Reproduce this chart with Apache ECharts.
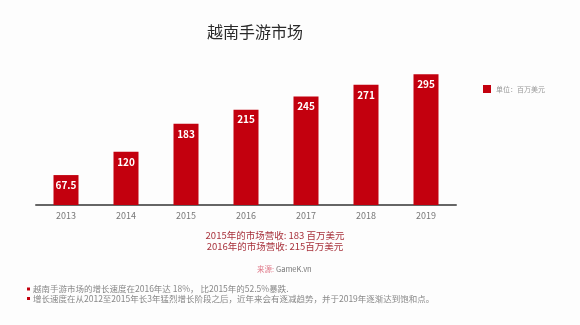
<!DOCTYPE html>
<html>
<head>
<meta charset="utf-8">
<script src="https://cdn.jsdelivr.net/npm/echarts@6/dist/echarts.min.js"></script>
<style>
  html, body { margin: 0; padding: 0; background: #fdfdfd; }
  #chart { width: 580px; height: 325px; }
</style>
</head>
<body>
<div id="chart"></div>
<script>
// Vietnam mobile game market revenue (million USD)
const years = ['2013', '2014', '2015', '2016', '2017', '2018', '2019'];
const revenue = [67.5, 120, 183, 215, 245, 271, 295];
const seriesName = '单位：百万美元';
const chartTitle = '越南手游市场';
const noteLines = ['2015年的市场营收: 183 百万美元', '2016年的市场营收: 215百万美元'];
const sourceLabel = '来源:';
const sourceName = 'GameK.vn';
const bullets = [
  '越南手游市场的增长速度在2016年达 18%， 比2015年的52.5%暴跌.',
  '增长速度在从2012至2015年长3年猛烈增长阶段之后，近年来会有逐减趋势，并于2019年逐渐达到饱和点。'
];

const font = '"Noto Sans CJK SC", "Noto Sans", sans-serif';
const red = '#c3000e';

const chart = echarts.init(document.getElementById('chart'), null, { renderer: 'canvas' });

// bullet list under the chart
const bulletGraphics = [];
bullets.forEach((t, i) => {
  const y = 289 + i * 9.5;
  bulletGraphics.push({
    type: 'rect', x: 27, y: y - 1.5, shape: { width: 3, height: 3 },
    style: { fill: red }
  });
  bulletGraphics.push({
    type: 'text', x: 33, y: y,
    style: { text: t, font: '8.5px ' + font, fill: '#888', textVerticalAlign: 'middle' }
  });
});

chart.setOption({
  backgroundColor: '#fdfdfd',
  title: {
    text: chartTitle,
    left: 250, top: 19, textAlign: 'center',
    textStyle: { fontFamily: font, fontSize: 16, fontWeight: 'normal', color: '#2a2a2a' }
  },
  legend: {
    data: [seriesName],
    left: 478, top: 80,
    itemWidth: 8, itemHeight: 8, itemGap: 4,
    icon: 'rect',
    textStyle: { fontFamily: font, fontSize: 7, color: '#999' }
  },
  grid: { left: 36, right: 124, top: 72, bottom: 120 },
  xAxis: {
    type: 'category',
    data: years,
    axisLine: { lineStyle: { color: '#666', width: 2 } },
    axisTick: { show: false },
    axisLabel: { fontFamily: font, fontSize: 9, color: '#777', margin: 6 }
  },
  yAxis: {
    type: 'value', min: 0, max: 300,
    show: false,
    splitLine: { show: false }
  },
  series: [{
    name: seriesName,
    type: 'bar',
    data: revenue,
    barWidth: 25,
    itemStyle: { color: red },
    label: {
      show: true, position: 'insideTop', distance: 5,
      color: '#fff', fontFamily: font, fontSize: 10, fontWeight: 'bold'
    }
  }],
  graphic: [
    {
      type: 'text', x: 275, y: 230,
      style: {
        text: noteLines.join('\n'), textAlign: 'center', lineHeight: 11,
        font: '9.5px ' + font, fill: '#a8323c'
      }
    },
    {
      type: 'text', x: 274, y: 269,
      style: {
        text: sourceLabel, textAlign: 'right', textVerticalAlign: 'middle',
        font: '7.5px ' + font, fill: '#e07a8a'
      }
    },
    {
      type: 'text', x: 276, y: 269,
      style: {
        text: sourceName, textAlign: 'left', textVerticalAlign: 'middle',
        font: '7.5px ' + font, fill: '#777'
      }
    }
  ].concat(bulletGraphics)
});
</script>
</body>
</html>
